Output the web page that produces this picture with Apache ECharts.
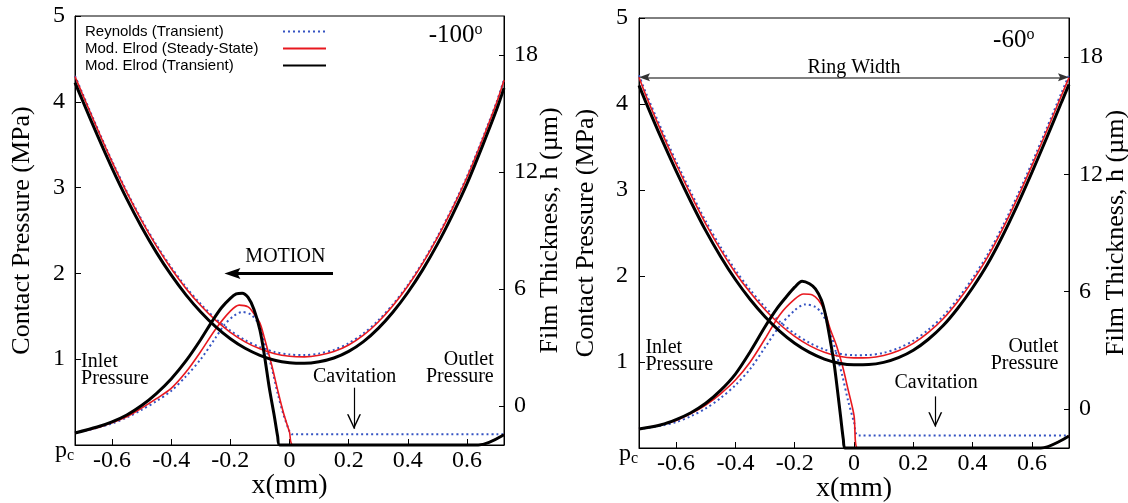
<!DOCTYPE html>
<html>
<head>
<meta charset="utf-8">
<script src="https://cdn.jsdelivr.net/npm/echarts@6/dist/echarts.min.js"></script>
<style>html,body{margin:0;padding:0;background:#fff;}#c{width:1128px;height:503px;}</style>
</head>
<body>
<div id="c"></div>
<script>
// ---------------- data ----------------
const seriesNames = ['Reynolds (Transient)', 'Mod. Elrod (Steady-State)', 'Mod. Elrod (Transient)'];
const panelTitles = ['-100', '-60'];
const xTicks = [-0.6, -0.4, -0.2, 0, 0.2, 0.4, 0.6];
const xTickLabels = ['-0.6', '-0.4', '-0.2', '0', '0.2', '0.4', '0.6'];
const pTicks = [0, 1, 2, 3, 4, 5];
const pTickLabels = ['pc', '1', '2', '3', '4', '5'];
const hTicks = [0, 6, 12, 18];

// film thickness (µm) – common x grid
const xFilm = [-0.725,-0.7,-0.65,-0.6,-0.55,-0.5,-0.45,-0.4,-0.35,-0.3,-0.25,-0.2,-0.15,-0.1,-0.05,0,0.05,0.1,0.15,0.2,0.25,0.3,0.35,0.4,0.45,0.5,0.55,0.6,0.65,0.7,0.725];
// -100 deg panel
const filmBlue100  = [16.93,16.04,14.27,12.57,11.0,9.56,8.27,7.12,6.1,5.23,4.48,3.87,3.38,3.02,2.77,2.64,2.61,2.69,2.88,3.22,3.72,4.39,5.22,6.21,7.37,8.69,10.16,11.78,13.63,15.59,16.74];
const filmRed100   = [16.9,16.0,14.23,12.53,10.95,9.51,8.21,7.05,6.03,5.15,4.4,3.78,3.29,2.93,2.68,2.55,2.52,2.6,2.79,3.13,3.63,4.31,5.15,6.15,7.31,8.63,10.11,11.73,13.58,15.55,16.7];
const filmBlack100 = [16.58,15.68,13.9,12.2,10.62,9.18,7.88,6.72,5.7,4.82,4.07,3.45,2.96,2.6,2.35,2.22,2.19,2.27,2.46,2.8,3.3,3.98,4.82,5.82,6.98,8.3,9.78,11.4,13.25,15.2,16.3];
// -60 deg panel
const filmBlue60  = [17.07,16.1,14.34,12.67,11.09,9.61,8.29,7.11,6.09,5.21,4.46,3.85,3.38,3.04,2.83,2.75,2.76,2.87,3.11,3.49,4.04,4.74,5.64,6.69,7.89,9.31,10.89,12.59,14.37,16.19,17.07];
const filmRed60   = [16.97,15.97,14.2,12.53,10.95,9.47,8.15,6.97,5.95,5.07,4.32,3.71,3.24,2.9,2.69,2.61,2.62,2.73,2.97,3.35,3.9,4.6,5.5,6.55,7.75,9.17,10.75,12.45,14.23,16.05,16.95];
const filmBlack60 = [16.55,15.62,13.85,12.18,10.6,9.12,7.8,6.62,5.6,4.72,3.97,3.36,2.89,2.55,2.34,2.26,2.27,2.38,2.62,3.0,3.55,4.25,5.15,6.2,7.4,8.82,10.4,12.1,13.88,15.7,16.6];

// contact pressure (MPa) -100 deg
const xPresBlue100 = [-0.725,-0.65,-0.6,-0.55,-0.5,-0.45,-0.4,-0.35,-0.3,-0.25,-0.22,-0.19,-0.16,-0.13,-0.11,-0.095,-0.08,-0.06,-0.04,-0.02,0,0.008,0.725];
const presBlue100  = [0.14,0.2,0.25,0.32,0.41,0.51,0.63,0.8,1.0,1.25,1.4,1.5,1.55,1.52,1.44,1.33,1.13,0.9,0.6,0.35,0.16,0.125,0.125];
const xPresRed100 = [-0.725,-0.65,-0.6,-0.55,-0.5,-0.45,-0.4,-0.35,-0.3,-0.25,-0.2,-0.17,-0.14,-0.12,-0.1,-0.085,-0.06,-0.04,-0.02,0,0.012,0.638,0.725];
const presRed100  = [0.14,0.2,0.26,0.33,0.43,0.54,0.66,0.85,1.09,1.35,1.56,1.63,1.61,1.53,1.42,1.25,0.93,0.64,0.37,0.15,0,0,0.12];
const xPresBlack100 = [-0.725,-0.65,-0.6,-0.55,-0.5,-0.45,-0.4,-0.35,-0.3,-0.26,-0.23,-0.2,-0.18,-0.16,-0.14,-0.12,-0.1,-0.085,-0.068,-0.051,-0.04,-0.033,0.638,0.725];
const presBlack100  = [0.14,0.21,0.27,0.35,0.46,0.6,0.77,0.98,1.23,1.45,1.6,1.71,1.76,1.77,1.72,1.58,1.34,1.05,0.66,0.33,0.1,0,0,0.12];

// contact pressure (MPa) -60 deg
const xPresBlue60 = [-0.725,-0.65,-0.6,-0.55,-0.5,-0.45,-0.4,-0.35,-0.3,-0.25,-0.2,-0.165,-0.13,-0.11,-0.09,-0.075,-0.06,-0.04,-0.02,0,0.015,0.725];
const presBlue60  = [0.22,0.26,0.3,0.37,0.46,0.58,0.73,0.92,1.17,1.42,1.6,1.67,1.64,1.57,1.45,1.3,1.1,0.85,0.55,0.3,0.145,0.145];
const xPresRed60 = [-0.725,-0.65,-0.6,-0.55,-0.5,-0.45,-0.4,-0.35,-0.3,-0.25,-0.2,-0.17,-0.14,-0.12,-0.1,-0.08,-0.06,-0.04,-0.02,0,0.012,0.63,0.725];
const presRed60  = [0.22,0.27,0.32,0.4,0.5,0.63,0.79,1.0,1.27,1.55,1.73,1.79,1.78,1.72,1.6,1.38,1.2,0.97,0.68,0.38,0,0,0.14];
const xPresBlack60 = [-0.725,-0.65,-0.6,-0.55,-0.5,-0.45,-0.4,-0.35,-0.3,-0.26,-0.23,-0.2,-0.175,-0.15,-0.13,-0.11,-0.095,-0.08,-0.067,-0.055,-0.045,-0.036,-0.03,0.63,0.725];
const presBlack60  = [0.22,0.27,0.33,0.41,0.52,0.67,0.86,1.12,1.41,1.62,1.75,1.87,1.94,1.91,1.85,1.72,1.53,1.25,0.98,0.65,0.36,0.1,0,0,0.14];

// ---------------- styling ----------------
const SERIF = 'Liberation Serif';
const SANS = 'Liberation Sans';
const BLUE = '#3553c2', RED = '#e8181f', BLACK = '#000000';
const styles = [
  {color: BLUE, width: 2, type: [2, 3]},
  {color: RED, width: 1.6, type: 'solid'},
  {color: BLACK, width: 3, type: 'solid'}
];

function mkLine(idx, xs, ys, xi, yi) {
  const st = styles[idx];
  return {
    name: seriesNames[idx], type: 'line', xAxisIndex: xi, yAxisIndex: yi,
    data: xs.map((x, i) => [x, ys[i]]),
    symbol: 'none', showSymbol: false, smooth: 0.3, clip: false, silent: true,
    lineStyle: {color: st.color, width: st.width, type: st.type},
    itemStyle: {color: st.color}, z: 2 + idx
  };
}

function xAxisDef(gi) {
  return {
    gridIndex: gi, type: 'value', min: -0.725, max: 0.725,
    name: 'x(mm)', nameLocation: 'middle', nameGap: 27, nameMoveOverlap: false,
    nameTextStyle: {fontFamily: SERIF, fontSize: 28, color: '#000'},
    axisLine: {show: true, lineStyle: {color: '#000', width: 1}},
    axisTick: {show: true, inside: true, length: 6, customValues: xTicks, lineStyle: {color: '#000'}},
    axisLabel: {customValues: xTicks, margin: 4, fontFamily: SERIF, fontSize: 24, color: '#000',
      formatter: v => xTickLabels[xTicks.findIndex(t => Math.abs(t - v) < 1e-6)]},
    splitLine: {show: false}
  };
}
function yLeftDef(gi, pad) {
  return {
    gridIndex: gi, type: 'value', min: 0, max: 5, interval: 1, position: 'left',
    name: 'Contact Pressure (MPa)', nameLocation: 'middle', nameRotate: 90, nameGap: 40, nameMoveOverlap: false,
    nameTextStyle: {fontFamily: SERIF, fontSize: 26, color: '#000'},
    axisLine: {show: true, onZero: false, lineStyle: {color: '#000', width: 1}},
    axisTick: {show: true, inside: true, length: 6, lineStyle: {color: '#000'}},
    axisLabel: {margin: 1, color: '#000',
      formatter: v => {
        const lab = pTickLabels[pTicks.indexOf(v)];
        return v === 0 ? '{p|p}{c|c}' : '{n|' + lab + '}';
      },
      rich: {
        n: {fontFamily: SERIF, fontSize: 24, color: '#000', padding: [0, pad, 0, 0]},
        p: {fontFamily: SERIF, fontSize: 24, color: '#000', padding: [12, 0, 0, 0]},
        c: {fontFamily: SERIF, fontSize: 16, color: '#000', padding: [22, 0, 0, 0]}
      }},
    splitLine: {show: false}
  };
}
function yRightDef(gi, gap) {
  return {
    gridIndex: gi, type: 'value', min: -2, max: 20, position: 'right',
    name: 'Film Thickness, h (µm)', nameLocation: 'middle', nameRotate: 90, nameGap: gap, nameMoveOverlap: false,
    nameTextStyle: {fontFamily: SERIF, fontSize: 26, color: '#000'},
    axisLine: {show: true, onZero: false, lineStyle: {color: '#000', width: 1}},
    axisTick: {show: true, inside: true, length: 5, customValues: hTicks, lineStyle: {color: '#000'}},
    axisLabel: {customValues: hTicks, margin: 10, fontFamily: SERIF, fontSize: 24, color: '#000'},
    splitLine: {show: false}
  };
}

function textPt(coord, text, position, extra) {
  return {
    coord, symbol: 'rect', symbolSize: 1, itemStyle: {color: 'rgba(0,0,0,0)'},
    label: Object.assign({show: true, position, distance: 0, formatter: () => text,
      fontFamily: SERIF, fontSize: 20, lineHeight: 17, color: '#000'}, extra || {})
  };
}
function titlePt(coord, txt) {
  return {
    coord, symbol: 'rect', symbolSize: 1, itemStyle: {color: 'rgba(0,0,0,0)'},
    label: {show: true, position: 'left', distance: 0, formatter: () => '{m|' + txt + '}{s|o}',
      rich: {m: {fontFamily: SERIF, fontSize: 25, lineHeight: 25, color: '#000'},
             s: {fontFamily: SERIF, fontSize: 16, lineHeight: 16, color: '#000', padding: [0, 0, 12, 0]}}}
  };
}
const ARROW_L = 'path://M0,5 L16,0 L13,5 L16,10 Z';
const ARROW_R = 'path://M16,5 L0,0 L3,5 L0,10 Z';
const CHEVRON_D = 'path://M0,0 L7,13 L14,0 L12.4,0 L7,10.2 L1.6,0 Z';
function shapePt(coord, sym, size, offset, color) {
  return {coord, symbol: sym, symbolSize: size, symbolOffset: offset, itemStyle: {color: color || '#000'}, label: {show: false}};
}
function annot(xi, yi, points, lines) {
  return {
    type: 'scatter', xAxisIndex: xi, yAxisIndex: yi, data: [], silent: true, z: 10,
    markPoint: {silent: true, animation: false, data: points},
    markLine: {silent: true, animation: false, symbol: 'none', label: {show: false}, data: lines}
  };
}

const annot100 = annot(0, 0, [
  textPt([-0.706, 0.875], 'Inlet\nPressure', 'right', {align: 'left'}),
  textPt([0.692, 0.9], 'Outlet\nPressure', 'left', {align: 'right'}),
  textPt([0.22, 0.80], 'Cavitation', 'inside'),
  textPt([-0.014, 2.19], 'MOTION', 'inside'),
  titlePt([0.654, 4.77], panelTitles[0]),
  shapePt([-0.22, 2.0], ARROW_L, [16, 11], [8, 0]),
  shapePt([0.218, 0.183], CHEVRON_D, [14, 15], [0, -7.5])
], [
  [{coord: [0.147, 2.0], lineStyle: {color: '#000', width: 3, type: 'solid'}}, {coord: [-0.193, 2.0]}],
  [{coord: [0.218, 0.668], lineStyle: {color: '#000', width: 1.2, type: 'solid'}}, {coord: [0.218, 0.19]}]
]);

const annot60 = annot(1, 2, [
  textPt([-0.705, 1.07], 'Inlet\nPressure', 'right', {align: 'left'}),
  textPt([0.691, 1.08], 'Outlet\nPressure', 'left', {align: 'right'}),
  textPt([0.277, 0.76], 'Cavitation', 'inside'),
  textPt([0.0, 4.42], 'Ring Width', 'inside'),
  titlePt([0.61, 4.74], panelTitles[1]),
  shapePt([-0.725, 4.31], ARROW_L, [11, 8], [5.5, 0], '#333'),
  shapePt([0.725, 4.31], ARROW_R, [11, 8], [-5.5, 0], '#333'),
  shapePt([0.274, 0.24], CHEVRON_D, [14, 15], [0, -7.5])
], [
  [{coord: [-0.70, 4.31], lineStyle: {color: '#555', width: 1.5, type: 'solid'}}, {coord: [0.70, 4.31]}],
  [{coord: [0.274, 0.60], lineStyle: {color: '#000', width: 1.2, type: 'solid'}}, {coord: [0.274, 0.25]}]
]);

const option = {
  animation: false,
  backgroundColor: '#ffffff',
  grid: [
    {left: 75, top: 16, width: 429, height: 429, show: true, borderColor: '#000', borderWidth: 1,
     backgroundColor: 'transparent', containLabel: false, outerBoundsMode: 'none'},
    {left: 639, top: 18, width: 430, height: 430, show: true, borderColor: '#000', borderWidth: 1,
     backgroundColor: 'transparent', containLabel: false, outerBoundsMode: 'none'}
  ],
  legend: {
    data: seriesNames, orient: 'vertical', left: 85, top: 24, align: 'right',
    itemWidth: 43, itemHeight: 14, itemGap: 2, padding: 0, selectedMode: false,
    itemStyle: {opacity: 0, borderWidth: 0},
    formatter: n => '{t|' + n + '}',
    textStyle: {fontFamily: SANS, fontSize: 15, color: '#000',
      rich: {t: {width: 193, align: 'left', fontFamily: SANS, fontSize: 15, color: '#000'}}}
  },
  xAxis: [xAxisDef(0), xAxisDef(1)],
  yAxis: [yLeftDef(0, 9), yRightDef(0, 33), yLeftDef(1, 10), yRightDef(1, 34)],
  series: [
    mkLine(0, xPresBlue100, presBlue100, 0, 0),
    mkLine(0, xFilm, filmBlue100, 0, 1),
    mkLine(1, xPresRed100, presRed100, 0, 0),
    mkLine(1, xFilm, filmRed100, 0, 1),
    mkLine(2, xPresBlack100, presBlack100, 0, 0),
    mkLine(2, xFilm, filmBlack100, 0, 1),
    mkLine(0, xPresBlue60, presBlue60, 1, 2),
    mkLine(0, xFilm, filmBlue60, 1, 3),
    mkLine(1, xPresRed60, presRed60, 1, 2),
    mkLine(1, xFilm, filmRed60, 1, 3),
    mkLine(2, xPresBlack60, presBlack60, 1, 2),
    mkLine(2, xFilm, filmBlack60, 1, 3),
    annot100, annot60
  ]
};

const chart = echarts.init(document.getElementById('c'), null, {renderer: 'canvas'});
chart.setOption(option);
</script>
</body>
</html>
